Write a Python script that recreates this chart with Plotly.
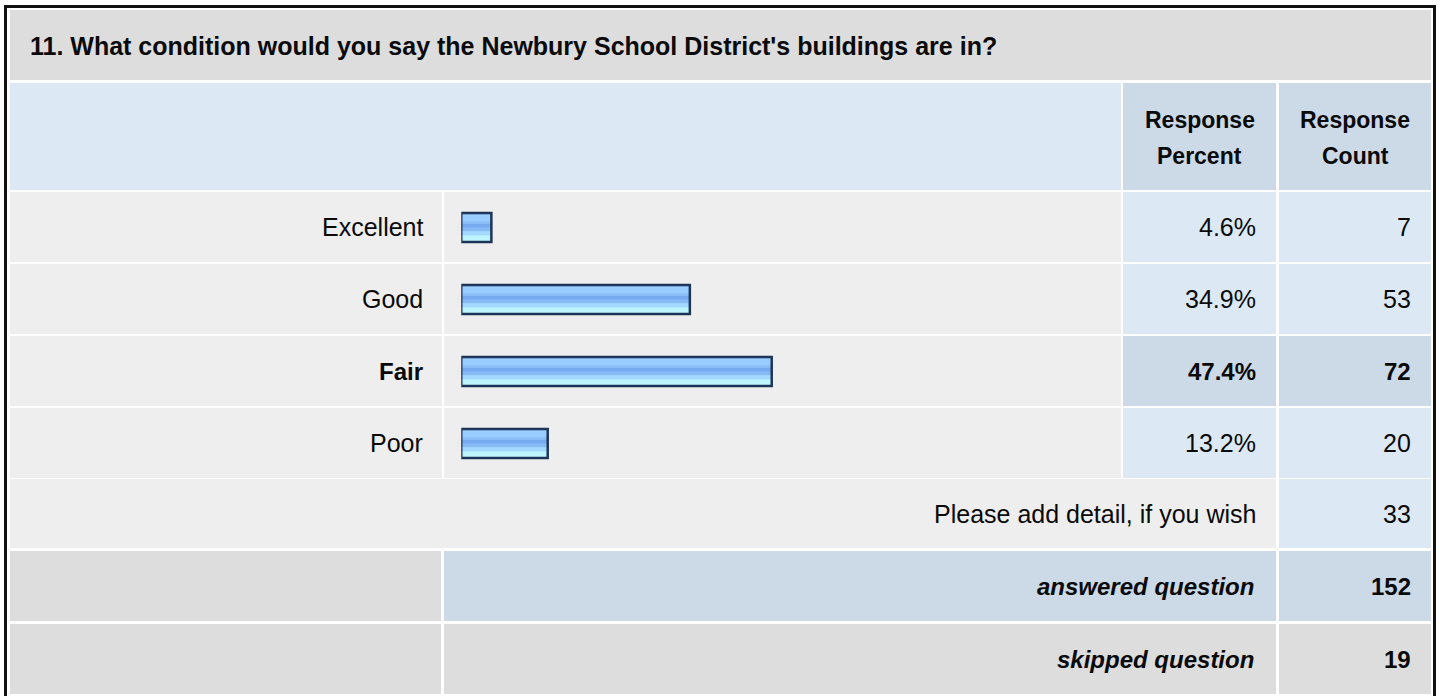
import plotly.graph_objects as go

question = "11. What condition would you say the Newbury School District's buildings are in?"
header_cols = [("Response", "Percent"), ("Response", "Count")]
answers = ["Excellent", "Good", "Fair", "Poor"]
percents = [4.6, 34.9, 47.4, 13.2]
counts = [7, 53, 72, 20]
detail_label = "Please add detail, if you wish"
detail_count = 33
answered = 152
skipped = 19

W, H = 1440, 696
FONT = "Liberation Sans, Arial, sans-serif"
FS = 25       # regular cell text
FS_B = 24     # bold cell text
FS_HEAD = 23  # column headers
FS_TITLE = 25

LIGHT_GREY = "#eeeeee"
MID_GREY = "#dddddd"
LIGHT_BLUE = "#dde8f5"
MID_BLUE = "#ccd9e6"


def px(x):
    return x / W


def py(y):
    return 1 - y / H


fig = go.Figure()
shapes = []
annotations = []


def cell(x0, y0, x1, y1, color):
    shapes.append(dict(type="rect", xref="paper", yref="paper",
                       x0=px(x0), x1=px(x1), y0=py(y1), y1=py(y0),
                       fillcolor=color, line=dict(width=0), layer="below"))


def label(text, x, y, anchor="right", bold=False, italic=False, size=None):
    if size is None:
        size = FS_B if bold else FS
    if bold:
        text = f"<b>{text}</b>"
    if italic:
        text = f"<i>{text}</i>"
    annotations.append(dict(text=text, x=px(x), y=py(y), xref="paper", yref="paper",
                            xanchor=anchor, yanchor="middle", showarrow=False,
                            font=dict(family=FONT, size=size, color="#0a0a0a")))


# column edges (pixels)
COL_LABEL = (10, 442)
COL_BAR = (444, 1121)
COL_PCT = (1123, 1276)
COL_CNT = (1279, 1431)

# title row
cell(10, 10, 1431, 80, MID_GREY)
label(question, 28, 46, anchor="left", bold=True, size=FS_TITLE)

# header row
cell(10, 83, COL_BAR[1], 190, LIGHT_BLUE)
cell(COL_PCT[0], 83, COL_PCT[1], 190, MID_BLUE)
cell(COL_CNT[0], 83, COL_CNT[1], 190, MID_BLUE)
for col, (l1, l2) in zip((COL_PCT, COL_CNT), header_cols):
    label(l1, sum(col) / 2, 120, anchor="center", bold=True, size=FS_HEAD)
    label(l2, sum(col) / 2, 156, anchor="center", bold=True, size=FS_HEAD)

# answer rows
ROW_TOP = 192
ROW_H = 72
top_pct = max(percents)
for i, (ans, pct, cnt) in enumerate(zip(answers, percents, counts)):
    y0 = ROW_TOP + i * ROW_H
    y1 = y0 + ROW_H - 2
    yc = (y0 + y1) / 2
    hi = pct == top_pct
    cell(COL_LABEL[0], y0, COL_LABEL[1], y1, LIGHT_GREY)
    cell(COL_BAR[0], y0, COL_BAR[1], y1, LIGHT_GREY)
    cell(COL_PCT[0], y0, COL_PCT[1], y1, MID_BLUE if hi else LIGHT_BLUE)
    cell(COL_CNT[0], y0, COL_CNT[1], y1, MID_BLUE if hi else LIGHT_BLUE)
    label(ans, 425, yc, bold=hi)
    label(f"{pct:.1f}%", 1258, yc, bold=hi)
    label(str(cnt), 1413, yc, bold=hi)

# detail row
y0 = ROW_TOP + 4 * ROW_H - 1
cell(10, y0, COL_PCT[1], y0 + 69, LIGHT_GREY)
cell(COL_CNT[0], y0, COL_CNT[1], y0 + 69, LIGHT_BLUE)
label(detail_label, 1258, y0 + 35)
label(str(detail_count), 1413, y0 + 35)

# answered / skipped
y0 = 551
cell(10, y0, 441, y0 + 70, MID_GREY)
cell(444, y0, COL_PCT[1], y0 + 70, MID_BLUE)
cell(COL_CNT[0], y0, COL_CNT[1], y0 + 70, MID_BLUE)
label("answered question", 1256, y0 + 35, bold=True, italic=True)
label(str(answered), 1413, y0 + 35, bold=True)

y0 = 624
cell(10, y0, 441, 694, MID_GREY)
cell(444, y0, COL_PCT[1], 694, MID_GREY)
cell(COL_CNT[0], y0, COL_CNT[1], 694, MID_GREY)
label("skipped question", 1256, y0 + 35, bold=True, italic=True)
label(str(skipped), 1413, y0 + 35, bold=True)

# outer frame
shapes.append(dict(type="rect", xref="paper", yref="paper",
                   x0=px(5.5), x1=px(1434.5), y0=py(720), y1=py(6.5),
                   line=dict(color="#111111", width=3), fillcolor="rgba(0,0,0,0)", layer="above"))

# --- bars: horizontal stripes stacked on top of each other, outline last ---
ypos = list(range(len(answers)))
UNIT = 72.0  # pixels per category
stripes = [
    (-14.5, 14.5, "#99ccff"),
    (-6.3, -3.7, "#8cbff8"),
    (-3.7, 0.3, "#77aaee"),
    (0.3, 3.7, "#88bbf5"),
    (3.7, 7.7, "#a3d9ff"),
    (7.7, 14.5, "#bdf4ff"),
]
for a, b, c in stripes:
    fig.add_trace(go.Bar(x=percents, y=ypos, orientation="h",
                         width=(b - a) / UNIT, offset=a / UNIT,
                         marker=dict(color=c, line=dict(width=0)),
                         hoverinfo="skip", showlegend=False))
fig.add_trace(go.Bar(x=percents, y=ypos, orientation="h",
                     width=29 / UNIT, offset=-14.5 / UNIT,
                     marker=dict(color="rgba(0,0,0,0)", line=dict(color="#1d3557", width=2.5)),
                     hovertemplate="%{x:.1f}%<extra></extra>", showlegend=False))

bar_left = 461.25
bar_right = bar_left + 655
fig.update_layout(
    width=W, height=H,
    margin=dict(l=0, r=0, t=0, b=0),
    paper_bgcolor="white", plot_bgcolor="rgba(0,0,0,0)",
    barmode="overlay",
    shapes=shapes, annotations=annotations,
    xaxis=dict(domain=[px(bar_left), px(bar_right)], range=[0, 100],
               visible=False, fixedrange=True),
    yaxis=dict(domain=[py(191.5 + 4 * UNIT), py(191.5)], range=[3.5, -0.5],
               visible=False, fixedrange=True),
    font=dict(family=FONT),
)

# drop the browser's default body margin so the figure sits at the page origin
fig.write_html("out.html", config={"displayModeBar": False},
               post_script="document.body.style.margin='0';document.body.style.overflow='hidden';")
